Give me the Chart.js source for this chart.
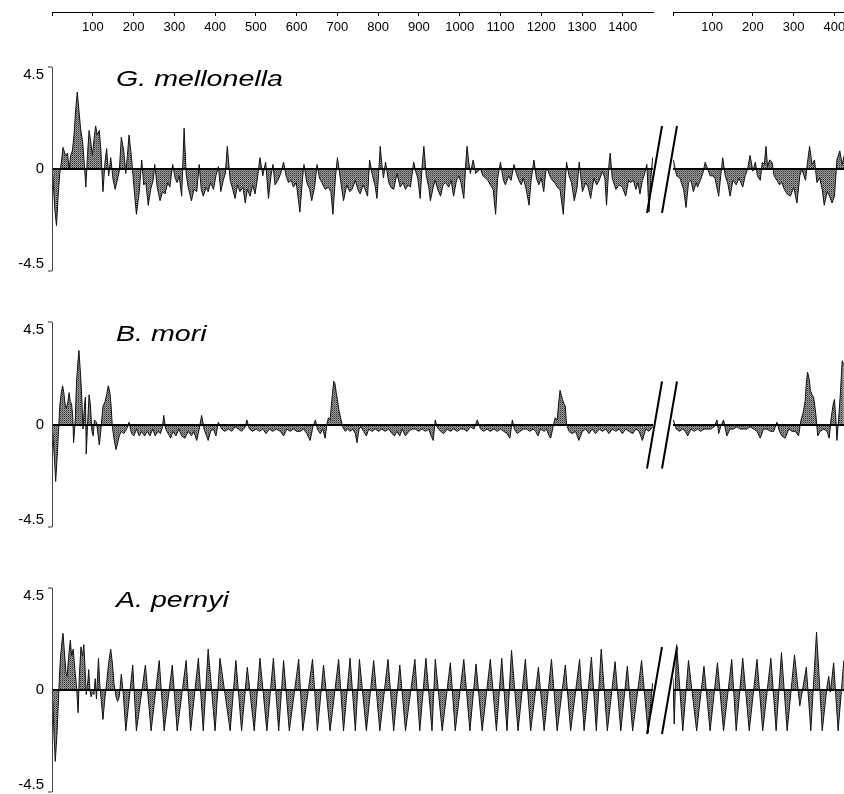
<!DOCTYPE html>
<html><head><meta charset="utf-8">
<script src="https://cdn.jsdelivr.net/npm/chart.js@4.4.1/dist/chart.umd.min.js"></script>
<style>
html,body{margin:0;padding:0;background:#fff;overflow:hidden;width:844px;height:794px;position:relative;}
canvas{position:absolute;}
</style></head><body>
<canvas id="axL" width="656" height="40" style="left:0;top:0"></canvas>
<canvas id="axR" width="171" height="40" style="left:673px;top:0"></canvas>
<canvas id="p1L" width="680" height="244" style="left:0;top:47px"></canvas>
<canvas id="p1R" width="171" height="244" style="left:673px;top:47px"></canvas>
<canvas id="p2L" width="680" height="245" style="left:0;top:302px"></canvas>
<canvas id="p2R" width="171" height="245" style="left:673px;top:302px"></canvas>
<canvas id="p3L" width="680" height="244" style="left:0;top:568px"></canvas>
<canvas id="p3R" width="171" height="244" style="left:673px;top:568px"></canvas>
<script>
// ---------- tick labels ----------
const topTicksLeft = [0,100,200,300,400,500,600,700,800,900,1000,1100,1200,1300,1400];
const topTicksRight = [4,100,200,300,400];
const yTicks = [-4.5, 0, 4.5];
const species = ["G. mellonella", "B. mori", "A. pernyi"];

// ---------- G. mellonella ----------
const gmLeftRes = [2,7,11,15,19,23,27,33,38,42,46,50,54,58,62,66,70,75,79,83,87,91,95,99,103,107,111,116,120,125,130,134,139,144,150,155,160,165,170,176,181,185,189,195,201,207,214,220,225,230,236,242,248,252,258,265,271,277,284,289,296,302,307,312,318,324,329,334,342,348,355,361,366,371,378,383,389,396,402,408,414,420,425,430,437,442,449,455,461,468,474,479,486,492,498,504,510,517,524,531,537,542,547,554,561,568,574,580,587,592,599,608,615,618,625,632,637,644,650,656,662,670,678,684,689,695,700,707,715,723,730,736,744,750,756,763,768,774,779,786,792,797,801,805,809,813,818,826,831,838,846,854,861,867,873,879,887,892,897,903,908,912,918,924,928,935,940,946,953,959,965,973,979,985,992,998,1003,1010,1015,1018,1022,1026,1033,1039,1044,1051,1057,1063,1069,1075,1082,1088,1093,1100,1107,1112,1120,1126,1133,1139,1145,1151,1156,1163,1170,1175,1182,1188,1194,1200,1206,1211,1215,1221,1227,1233,1239,1246,1254,1262,1268,1274,1281,1288,1293,1301,1309,1315,1321,1329,1336,1342,1350,1356,1360,1366,1369,1374,1383,1391,1399,1407,1414,1419,1426,1432,1437,1442,1448,1452,1459,1464,1469,1473];
const gmLeftVal = [-0.3,-1.8,-2.5,-1.2,-0.2,0.3,0.95,0.6,0.7,0,0.6,0.8,1.5,2.6,3.4,2.6,1.8,1.2,0.3,-0.8,0.6,1.7,1.2,0.6,1.3,1.9,1.5,1.7,0.8,-1.0,0.3,0.9,-0.3,0.5,-0.5,-0.9,-0.5,-0.1,1.4,0.8,-0.2,0.6,1.5,0.5,-0.8,-2.0,-1.0,0.4,-0.7,-0.6,-1.6,-0.9,-0.5,0.2,-0.8,-1.4,-1.0,-1.1,-0.6,-0.8,0.2,-0.4,-0.6,-0.3,-1.2,1.8,-0.2,-0.8,-1.4,-0.9,-1.0,0.2,-0.9,-1.2,-0.8,-1.0,-0.6,-0.9,-0.3,0.1,-1.0,-0.5,-0.2,1.0,-0.5,-0.8,-1.3,-0.7,-1.0,-0.8,-1.5,-0.9,-1.2,-0.7,-1.1,-0.4,0.5,-0.3,0.3,-1.3,-0.3,0.2,-0.7,-0.5,-0.2,0.3,-0.3,-0.6,-0.5,-0.8,-0.6,-1.9,-0.3,0.2,-0.6,-0.9,-1.4,-0.8,0.2,-0.4,-0.6,-0.9,-0.8,-1.0,-2.0,-0.4,0.5,-0.4,-1.4,-0.7,-1.0,-0.9,-0.5,-0.9,-1.1,-0.7,-0.9,-1.2,0.4,-0.3,-0.7,-1.3,-0.2,1.0,0.2,-0.4,0.3,-0.6,-0.8,-0.9,-0.2,-0.8,-0.6,-0.9,-0.7,-0.8,0.3,-0.1,-0.4,-1.3,0.2,1.0,-0.3,-0.8,-1.4,-0.8,-0.5,-0.9,-1.2,-0.7,-0.6,-0.8,-0.5,-1.2,-0.5,-0.3,-0.6,-1.3,0.3,1.0,0.3,-0.2,0.4,-0.2,-0.1,0,-0.3,-0.4,-0.5,-0.7,-0.9,-2.0,-0.4,0.3,-0.5,-0.7,-0.3,-0.5,0.2,-0.2,-0.5,-0.7,-0.4,-0.9,-1.6,-0.5,0.4,-0.4,-0.7,-0.4,-1.0,-0.1,0,-0.3,-0.5,-0.6,-0.8,-0.9,-2.0,0.3,-0.3,-0.6,-1.4,-0.8,0.3,-1.0,-0.6,-0.8,-1.3,-0.4,-0.7,-0.5,-0.1,-0.4,-1.6,0.2,0.7,-0.4,-0.9,-0.7,-0.8,-1.2,-0.5,-0.6,-0.5,-0.9,-0.6,-1.1,-0.5,-0.3,0.2,-1.9,-0.4,0.5];
const gmRightRes = [5,13,21,30,36,42,48,54,61,64,71,77,83,89,95,102,107,116,121,126,132,138,144,151,159,166,175,181,187,193,200,206,211,218,223,228,232,236,241,247,252,259,265,271,277,284,292,300,308,315,320,329,334,339,345,351,357,364,370,375,382,388,394,400,406,413,419,424];
const gmRightVal = [0.4,-0.3,-0.4,-0.9,-1.7,-0.6,-0.5,-1.0,-0.6,-0.8,-0.5,-0.2,0.3,0,-0.3,-0.3,-0.4,-1.2,-0.3,0.5,-0.3,-0.6,-1.2,-0.5,-0.7,-0.4,-0.8,-0.3,0,0.6,-0.1,0.3,-0.3,-0.5,0.3,0.2,1.0,0.1,0.4,0.3,-0.3,-0.5,-0.7,-0.6,-0.9,-1.1,-1.2,-0.8,-1.5,-0.3,0,-0.5,0.3,1.0,0.2,0.4,-0.6,-0.4,-0.9,-1.6,-1.0,-1.2,-1.5,-1.2,0.4,0.8,0.2,0.6];

// ---------- B. mori ----------
const bmLeftRes = [2,6,9,12,16,19,22,26,29,32,35,39,42,45,48,51,53,57,60,63,66,70,73,76,80,82,84,88,91,94,98,101,104,109,112,116,119,122,125,130,134,138,142,145,148,152,157,161,165,170,176,183,189,195,201,207,214,220,227,234,240,247,253,260,266,271,274,279,285,291,297,304,311,318,326,334,342,348,355,361,367,373,379,383,389,396,402,408,416,424,433,441,449,457,465,474,478,484,492,501,509,517,525,533,542,550,560,568,576,584,592,600,609,617,625,633,640,646,651,658,664,670,674,678,682,686,691,694,697,700,704,709,713,719,725,731,738,744,748,753,758,764,771,777,785,793,801,809,817,826,834,840,846,853,859,867,875,883,891,899,908,916,924,930,935,940,944,953,961,969,977,985,994,1002,1010,1018,1026,1035,1043,1051,1059,1067,1075,1084,1092,1100,1108,1116,1123,1129,1134,1141,1148,1156,1164,1172,1180,1186,1192,1198,1207,1213,1219,1223,1229,1234,1239,1243,1246,1249,1252,1256,1259,1262,1268,1276,1284,1292,1301,1309,1317,1325,1333,1342,1350,1358,1366,1374,1383,1391,1399,1407,1415,1424,1432,1440,1448,1456,1464,1473];
const bmLeftVal = [-0.4,-1.5,-2.5,-1.6,-0.3,0.8,1.3,1.7,1.4,0.9,0.7,1.0,1.4,1.0,0.9,0.3,-0.8,0.2,1.8,2.6,3.25,2.2,1.2,-0.2,0.9,1.2,-1.3,0.3,1.3,0.9,-0.3,-0.5,0.2,0.1,-0.3,-0.9,-0.4,0.2,0.8,1.0,1.3,1.7,1.4,0.8,-0.1,-0.6,-1.1,-0.8,-0.5,-0.3,-0.4,-0.2,0.1,-0.4,-0.5,-0.2,-0.5,-0.3,-0.5,-0.3,-0.5,-0.2,-0.5,-0.3,-0.4,-0.1,0.4,-0.2,-0.4,-0.6,-0.3,-0.5,-0.2,-0.5,-0.6,-0.3,-0.5,-0.3,-0.7,-0.2,0.4,-0.2,-0.5,-0.7,-0.3,-0.2,-0.5,0.1,-0.2,-0.3,-0.2,-0.3,-0.1,-0.2,-0.3,-0.1,0.2,-0.2,-0.3,-0.2,-0.3,-0.2,-0.4,-0.2,-0.3,-0.2,-0.3,-0.5,-0.2,-0.3,-0.2,-0.3,-0.3,-0.2,-0.4,-0.7,-0.1,0.2,-0.2,-0.4,-0.2,-0.6,0,0.3,0.2,1.0,1.9,1.8,1.4,1.1,0.6,0.2,-0.1,-0.3,-0.2,-0.3,-0.2,-0.4,-0.8,-0.2,-0.1,-0.3,-0.5,-0.2,-0.3,-0.2,-0.3,-0.2,-0.3,-0.2,-0.4,-0.5,-0.3,-0.5,-0.2,-0.5,-0.3,-0.2,-0.2,-0.3,-0.2,-0.3,-0.2,-0.5,-0.7,0.2,-0.1,-0.3,-0.4,-0.2,-0.3,-0.2,-0.3,-0.2,-0.2,-0.3,-0.1,-0.2,0.2,-0.2,-0.3,-0.2,-0.3,-0.2,-0.3,-0.2,-0.3,-0.4,-0.6,0.2,-0.2,-0.4,-0.3,-0.2,-0.2,-0.3,-0.2,-0.3,-0.5,-0.2,-0.3,-0.2,-0.5,-0.6,-0.1,0.3,0.2,1.0,1.5,1.3,1.1,0.9,0.8,0,-0.3,-0.4,-0.3,-0.7,-0.3,-0.2,-0.4,-0.2,-0.4,-0.2,-0.3,-0.2,-0.4,-0.2,-0.3,-0.2,-0.4,-0.2,-0.3,-0.4,-0.2,-0.3,-0.7,-0.2,-0.3,-0.1];
const bmRightRes = [5,12,20,28,34,40,48,56,64,72,80,89,97,105,112,116,121,128,136,144,152,161,169,177,185,193,202,210,218,226,234,243,251,259,265,271,279,288,296,304,312,318,323,328,331,334,338,341,345,349,354,359,365,374,382,387,392,397,400,403,406,410,415,419,423];
const bmRightVal = [0.2,-0.2,-0.3,-0.2,-0.3,-0.5,-0.2,-0.3,-0.2,-0.3,-0.2,-0.2,-0.2,-0.1,0.2,-0.4,-0.1,0.2,-0.5,-0.2,-0.2,-0.1,-0.2,-0.2,-0.2,-0.1,-0.2,-0.3,-0.6,-0.2,-0.2,-0.3,-0.3,0.1,-0.3,-0.5,-0.6,-0.2,-0.3,-0.3,-0.5,0.2,0.5,1.0,1.8,2.3,2.0,1.5,1.3,1.2,0.5,-0.5,-0.3,-0.2,-0.3,-0.6,0.3,0.9,1.1,0.4,-0.7,0.2,1.5,2.8,2.6];

// ---------- A. pernyi ----------
const apLeftRes = [2,5,8,12,15,18,21,25,27,30,34,37,41,45,48,52,56,60,64,67,71,75,78,81,84,88,90,93,96,99,103,106,109,114,117,121,125,130,134,139,144,148,152,157,161,165,170,175,181,198,207,229,243,263,275,295,307,329,340,359,371,383,400,412,437,451,465,479,496,510,527,543,556,568,582,605,615,639,651,666,682,703,715,731,744,754,771,789,804,824,838,853,867,890,902,917,932,940,957,977,989,1010,1025,1040,1055,1075,1090,1103,1116,1127,1143,1161,1174,1193,1207,1225,1239,1259,1272,1294,1305,1323,1335,1347,1362,1381,1395,1411,1424,1446,1462,1473];
const apLeftVal = [-0.5,-2.0,-3.15,-2.0,-0.8,0.5,1.5,2.2,2.5,1.8,0.8,0.6,1.5,2.2,1.5,1.8,0.9,0.2,-1.0,0.6,1.9,1.5,2.0,1.0,-0.2,0.4,0.9,0,-0.3,-0.1,-0.2,0.5,-0.4,1.4,0.3,-0.5,-1.3,-0.3,0.3,1.2,1.8,1.2,0.3,-0.3,-0.5,-0.3,0.7,-0.2,-1.8,1.1,-1.8,1.1,-1.8,1.3,-1.8,1.1,-1.8,1.3,-1.8,1.4,-1.8,1.8,-1.8,1.4,-1.8,1.3,-1.8,1.0,-1.8,1.4,-1.8,1.4,-1.8,1.3,-1.8,1.35,-1.8,1.35,-1.8,1.1,-1.8,1.35,-1.8,1.4,-1.8,1.35,-1.8,1.3,-1.8,1.35,-1.8,1.1,-1.8,1.35,-1.8,1.4,-1.8,1.35,-1.8,1.2,-1.8,1.35,-1.8,1.15,-1.8,1.35,-1.8,1.4,-1.8,1.75,-1.8,1.35,-1.8,1.0,-1.8,1.35,-1.8,1.1,-1.8,1.35,-1.8,1.45,-1.8,1.8,-1.8,1.25,-1.8,1.05,-1.8,1.3,-1.9,0.3];
const apRightRes = [4,7,13,28,42,62,80,95,113,128,148,159,175,191,210,224,244,257,270,284,302,315,331,342,356,370,382,386,390,398,409,423];
const apRightVal = [0.5,-1.5,2.0,-1.8,1.3,-1.8,1.05,-1.8,1.2,-1.8,1.35,-1.8,1.4,-1.8,1.35,-1.8,1.4,-1.8,1.65,-1.8,1.55,-0.7,1.0,-1.8,2.55,-1.8,0.2,0.6,-0.1,1.2,-1.8,1.3];

// ---------- helpers ----------
Chart.defaults.font.family = '"Liberation Sans", Arial, Helvetica, sans-serif';
Chart.defaults.color = '#000';

const LEFT_MAX = 1474, RIGHT_MIN = 4, RIGHT_MAX = 423.4;

function stipple(canvas) {
  const t = document.createElement('canvas'); t.width = 2; t.height = 2;
  const g = t.getContext('2d');
  g.fillStyle = '#9c9c9c'; g.fillRect(0, 0, 2, 2);
  g.fillStyle = '#303030'; g.fillRect(0, 0, 1, 1);
  g.fillStyle = '#6a6a6a'; g.fillRect(1, 1, 1, 1);
  return canvas.getContext('2d').createPattern(t, 'repeat');
}

const speciesPlugin = {
  id: 'species',
  afterDatasetsDraw(chart, args, opts) {
    if (!opts || !opts.text) return;
    const ctx = chart.ctx, a = chart.chartArea;
    ctx.save();
    ctx.font = 'italic 22px "Liberation Sans", Arial, sans-serif';
    ctx.fillStyle = '#000';
    ctx.textBaseline = 'alphabetic';
    ctx.translate(a.left + 64, a.top + 19);
    ctx.scale(1.3, 1);
    ctx.fillText(opts.text, 0, 0);
    ctx.restore();
  }
};

const breakPlugin = {
  id: 'axisBreak',
  afterDraw(chart, args, opts) {
    if (!opts || !opts.show) return;
    const ctx = chart.ctx;
    const y0 = chart.scales.y.getPixelForValue(0);
    const x = chart.chartArea.right;
    ctx.save();
    ctx.strokeStyle = '#000';
    ctx.lineWidth = 2;
    ctx.beginPath();
    ctx.moveTo(x - 6, y0 + 44); ctx.lineTo(x + 9, y0 - 43);
    ctx.moveTo(x + 9, y0 + 44); ctx.lineTo(x + 24, y0 - 43);
    ctx.stroke();
    ctx.restore();
  }
};

function axisChart(id, tickVals, min, max, padLeft, padRight) {
  return new Chart(document.getElementById(id), {
    type: 'line',
    data: { datasets: [] },
    options: {
      responsive: false, animation: false, devicePixelRatio: 1,
      layout: { padding: { left: padLeft, right: padRight, top: 0, bottom: 0 } },
      plugins: { legend: { display: false }, tooltip: { enabled: false } },
      scales: {
        y: { display: false },
        x: {
          type: 'linear', position: 'bottom', min: min, max: max,
          afterBuildTicks: s => { s.ticks = tickVals.map(v => ({ value: v })); },
          afterFit: s => { s.height = 28; s.paddingLeft = 0; s.paddingRight = 0; },
          border: { display: true, color: '#000', width: 1 },
          grid: { display: true, drawOnChartArea: false, drawTicks: true, tickLength: 4, tickColor: '#000', tickWidth: 1 },
          ticks: {
            autoSkip: false, maxRotation: 0, padding: 4, color: '#000',
            font: { size: 13 },
            callback: v => (v === tickVals[0] ? '' : String(v))
          }
        }
      }
    }
  });
}

function panelChart(id, res, val, side, name) {
  const cv = document.getElementById(id);
  const left = side === 'L';
  const pts = res.map((r, i) => ({ x: r, y: val[i] }));
  return new Chart(cv, {
    type: 'line',
    data: {
      datasets: [{
        data: pts,
        borderColor: '#111', borderWidth: 1,
        backgroundColor: stipple(cv),
        fill: 'origin', pointRadius: 0, tension: 0
      }]
    },
    plugins: [speciesPlugin, breakPlugin],
    options: {
      responsive: false, animation: false, devicePixelRatio: 1,
      layout: { padding: { left: 0, right: left ? 27 : 0, top: 20, bottom: 20 } },
      plugins: {
        legend: { display: false }, tooltip: { enabled: false },
        species: { text: left ? name : '' },
        axisBreak: { show: left }
      },
      scales: {
        x: { type: 'linear', display: false, min: left ? 0 : RIGHT_MIN, max: left ? LEFT_MAX : RIGHT_MAX },
        y: {
          type: 'linear', min: -4.5, max: 4.5, position: 'left',
          afterBuildTicks: s => { s.ticks = yTicks.map(v => ({ value: v })); },
          afterFit: s => { s.width = left ? 52 : 0; s.paddingTop = 0; s.paddingBottom = 0; },
          border: { display: left, color: '#444', width: 1, z: 1 },
          grid: {
            z: 1, drawOnChartArea: true, drawTicks: left, tickLength: 4, tickWidth: 1,
            color: c => (c.tick && c.tick.value === 0 ? '#000' : 'rgba(0,0,0,0)'),
            lineWidth: c => (c.tick && c.tick.value === 0 ? 2 : 0),
            tickColor: c => (c.tick && c.tick.value === 0 ? 'rgba(0,0,0,0)' : '#333')
          },
          ticks: {
            display: left, padding: 4, color: '#000', z: 1,
            font: { size: 15, lineHeight: 1 },
            callback: v => (v === 4.5 ? ['', '4.5'] : v === -4.5 ? ['-4.5', ''] : '0')
          }
        }
      }
    }
  });
}

axisChart('axL', topTicksLeft, 0, LEFT_MAX, 52, 3);
axisChart('axR', topTicksRight, RIGHT_MIN, RIGHT_MAX, 0, 0);
panelChart('p1L', gmLeftRes, gmLeftVal, 'L', species[0]);
panelChart('p1R', gmRightRes, gmRightVal, 'R', species[0]);
panelChart('p2L', bmLeftRes, bmLeftVal, 'L', species[1]);
panelChart('p2R', bmRightRes, bmRightVal, 'R', species[1]);
panelChart('p3L', apLeftRes, apLeftVal, 'L', species[2]);
panelChart('p3R', apRightRes, apRightVal, 'R', species[2]);
</script>
</body></html>
